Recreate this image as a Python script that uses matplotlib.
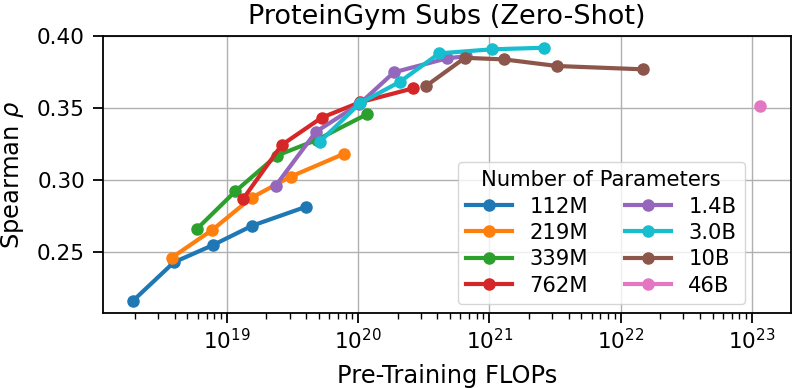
import matplotlib
matplotlib.use("Agg")
import matplotlib.pyplot as plt
import numpy as np

labels = ["112M", "219M", "339M", "762M", "1.4B", "3.0B", "10B", "46B"]
colors = ["#1f77b4", "#ff7f0e", "#2ca02c", "#d62728", "#9467bd", "#17becf", "#8c564b", "#e377c2"]

flops_112M = [1.93e18, 3.94e18, 7.87e18, 1.56e19, 3.97e19]
rho_112M = [0.2162, 0.2428, 0.2549, 0.2683, 0.2813]
flops_219M = [3.79e18, 7.73e18, 1.54e19, 3.05e19, 7.74e19]
rho_219M = [0.2460, 0.2653, 0.2877, 0.3023, 0.3181]
flops_339M = [5.87e18, 1.16e19, 2.39e19, 4.82e19, 1.16e20]
rho_339M = [0.2658, 0.2922, 0.3169, 0.3278, 0.3456]
flops_762M = [1.32e19, 2.61e19, 5.26e19, 1.03e20, 2.62e20]
rho_762M = [0.2866, 0.3243, 0.3433, 0.3540, 0.3637]
flops_1_4B = [2.35e19, 4.76e19, 1.02e20, 1.87e20, 4.71e20, 6.6e20]
rho_1_4B = [0.2960, 0.3335, 0.3528, 0.3748, 0.3845, 0.3860]
flops_3_0B = [5.1e19, 1.03e20, 2.08e20, 4.14e20, 1.04e21, 2.61e21]
rho_3_0B = [0.3266, 0.3533, 0.3683, 0.3880, 0.3908, 0.3919]
flops_10B = [3.28e20, 6.5e20, 1.29e21, 3.28e21, 1.48e22]
rho_10B = [0.3653, 0.3849, 0.3838, 0.3792, 0.3769]
flops_46B = [1.15e23]
rho_46B = [0.3514]

series = [
    (flops_112M, rho_112M), (flops_219M, rho_219M), (flops_339M, rho_339M),
    (flops_762M, rho_762M), (flops_1_4B, rho_1_4B), (flops_3_0B, rho_3_0B),
    (flops_10B, rho_10B), (flops_46B, rho_46B),
]
yticks = [0.25, 0.30, 0.35, 0.40]

fig = plt.figure(figsize=(7.95, 3.88), dpi=100)
ax = fig.add_axes([0.1296, 0.1933, 0.8654, 0.7137])
for (x, y), lab, c in zip(series, labels, colors):
    ax.plot(x, y, marker="o", color=c, lw=3, ms=8, label=lab)

ax.set_xscale("log")
ax.set_xlim(10**18.056, 10**23.297)
ax.set_ylim(0.2076, 0.400)
ax.set_yticks(yticks)
ax.set_yticklabels([f"{t:.2f}" for t in yticks])
ax.grid(True, which="major", color="#b0b0b0", lw=1)
ax.tick_params(labelsize=15.5)
ax.tick_params(which="major", length=7, width=1.3)
ax.tick_params(which="minor", length=4, width=1.0)
ax.tick_params(axis="y", pad=6)
ax.set_xlabel("Pre-Training FLOPs", fontsize=17.4, labelpad=8)
ax.set_ylabel(r"Spearman $\rho$", fontsize=17.4, labelpad=8)
ax.set_title("ProteinGym Subs (Zero-Shot)", fontsize=19.5, pad=9)
for s in ax.spines.values():
    s.set_linewidth(1.3)

leg = ax.legend(title="Number of Parameters", ncol=2, fontsize=15.2, title_fontsize=15.2,
                loc="lower right", bbox_to_anchor=(0.933, 0.0325), borderaxespad=0,
                handlelength=2.2, labelspacing=0.3, columnspacing=1.75)

fig.savefig("out.png", dpi=100)
